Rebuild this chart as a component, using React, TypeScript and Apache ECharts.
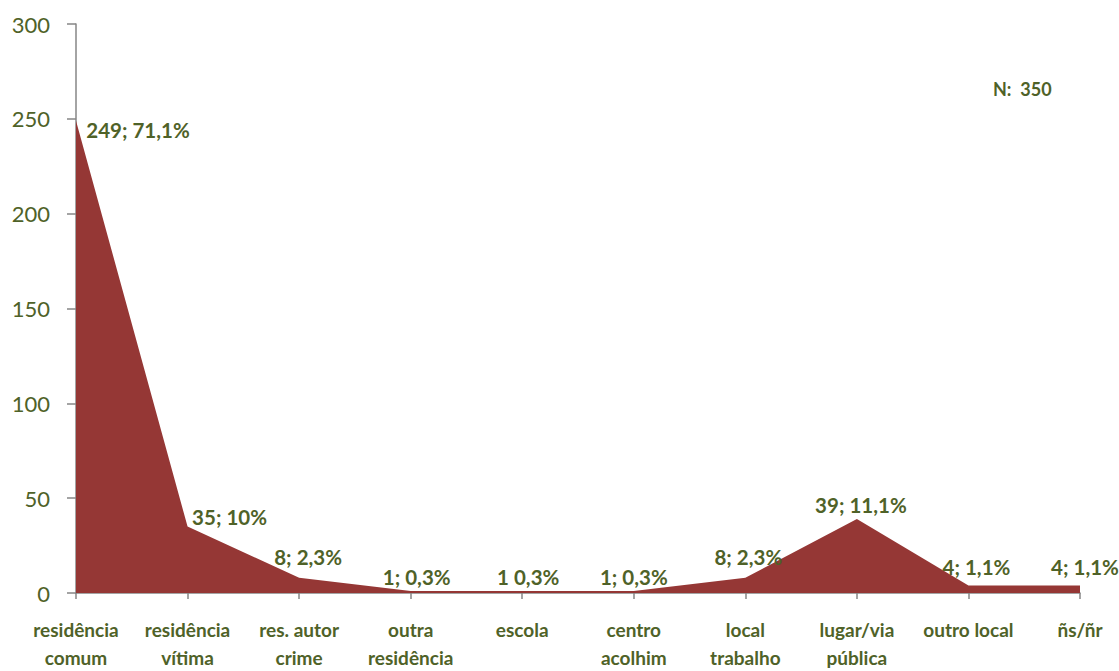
import React, { useEffect, useRef } from "react";
import * as echarts from "echarts";

const categories = [
  "residência\ncomum",
  "residência\nvítima",
  "res. autor\ncrime",
  "outra\nresidência",
  "escola",
  "centro\nacolhim",
  "local\ntrabalho",
  "lugar/via\npública",
  "outro local",
  "ñs/ñr",
];
const values = [249, 35, 8, 1, 1, 1, 8, 39, 4, 4];
const labels = [
  "249; 71,1%",
  "35; 10%",
  "8; 2,3%",
  "1; 0,3%",
  "1 0,3%",
  "1; 0,3%",
  "8; 2,3%",
  "39; 11,1%",
  "4; 1,1%",
  "4; 1,1%",
];
const labelOffsets = [
  [62, 25],
  [42, 6],
  [9, -5],
  [6, 2],
  [6, 2],
  [0, 2],
  [3, -5],
  [4, 2],
  [8, -2],
  [5, -2],
];
const yTicks = [0, 50, 100, 150, 200, 250, 300];
const note = "N:  350";

const GREEN = "#4F6228";
const FONT = "Lato, 'Open Sans', sans-serif";

export default function App() {
  const ref = useRef<HTMLDivElement>(null);
  useEffect(() => {
    if (!ref.current) return;
    const chart = echarts.init(ref.current, undefined, { renderer: "svg" });
    chart.setOption({
      animation: false,
      grid: { left: 76, right: 39, top: 24, bottom: 74 },
      xAxis: {
        type: "category",
        data: categories,
        boundaryGap: false,
        axisLine: { lineStyle: { color: "#868686", width: 1.5 } },
        axisTick: { show: true, length: 6, lineStyle: { color: "#868686", width: 1.5 } },
        axisLabel: {
          interval: 0,
          color: GREEN,
          fontWeight: "bold",
          fontSize: 19,
          fontFamily: FONT,
          lineHeight: 28,
          margin: 22,
        },
      },
      yAxis: {
        type: "value",
        min: yTicks[0],
        max: yTicks[yTicks.length - 1],
        interval: 50,
        splitLine: { show: false },
        axisLine: { show: true, lineStyle: { color: "#868686", width: 1.5 } },
        axisTick: { show: true, length: 9, lineStyle: { color: "#868686", width: 1.5 } },
        axisLabel: { color: GREEN, fontSize: 22, fontFamily: FONT, margin: 26 },
      },
      series: [
        {
          type: "line",
          data: values,
          symbol: "none",
          lineStyle: { width: 0 },
          areaStyle: { color: "#953735", opacity: 1 },
          z: 1,
          silent: true,
        },
        {
          type: "scatter",
          data: values.map((v, i) => ({
            value: v,
            label: {
              show: true,
              position: "top",
              offset: labelOffsets[i],
              formatter: labels[i],
            },
          })),
          symbolSize: 1,
          itemStyle: { color: "rgba(0,0,0,0)", opacity: 1 },
          label: {
            show: true,
            color: GREEN,
            fontWeight: "bold",
            fontSize: 20.5,
            fontFamily: FONT,
          },
          z: 3,
        },
      ],
      graphic: [
        {
          type: "text",
          left: 993,
          top: 80,
          style: {
            text: note,
            fill: GREEN,
            font: `bold 18px ${FONT}`,
          },
        },
      ],
    });
    return () => chart.dispose();
  }, []);
  return <div ref={ref} style={{ width: 1119, height: 671, position: "absolute", left: 0, top: 0 }} />;
}
